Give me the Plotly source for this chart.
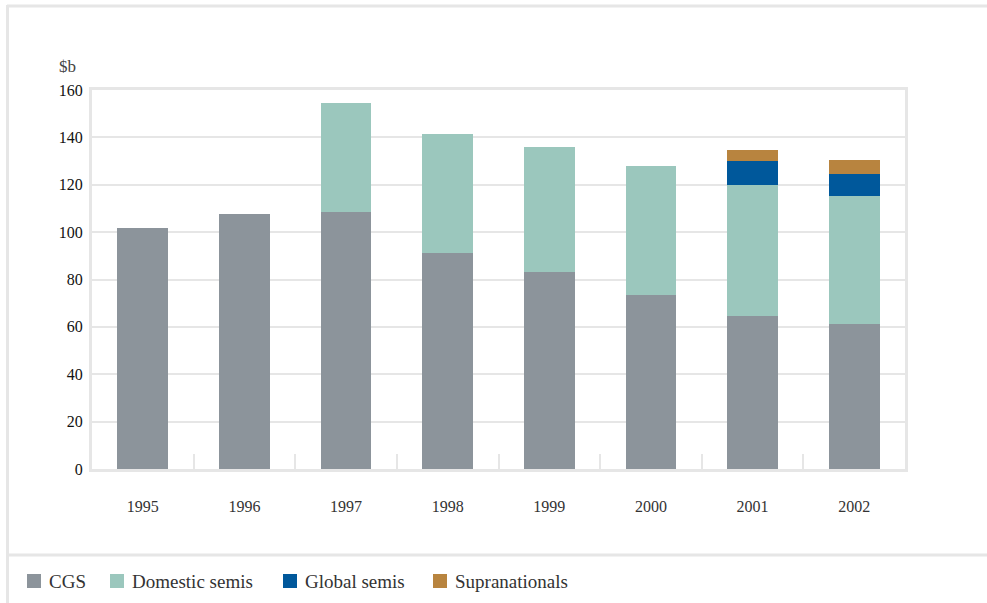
import plotly.graph_objects as go

years = ["1995", "1996", "1997", "1998", "1999", "2000", "2001", "2002"]
cgs = [101.6, 107.5, 108.4, 91.0, 83.0, 73.6, 64.8, 61.4]
domestic = [0, 0, 46.1, 50.4, 52.9, 54.2, 55.0, 53.7]
global_semis = [0, 0, 0, 0, 0, 0, 10.1, 9.3]
supra = [0, 0, 0, 0, 0, 0, 4.7, 6.0]

names = ["CGS", "Domestic semis", "Global semis", "Supranationals"]
colors = ["#8c949b", "#9bc7bd", "#00589b", "#b8843f"]
values = [cgs, domestic, global_semis, supra]

W, H = 987, 603
L, R, T, B = 92, 905, 90, 469
FONT = "Liberation Serif, DejaVu Serif, serif"

fig = go.Figure()
for name, vals, col in zip(names, values, colors):
    fig.add_trace(go.Bar(x=years, y=vals, name=name, showlegend=False,
                         marker=dict(color=col, line=dict(width=0))))

def px(x):
    return (x - L) / (R - L)

def py(y):
    return (B - y) / (B - T)

grey = "#e6e6e6"
shapes = [
    dict(type="line", xref="paper", yref="paper", x0=px(7), x1=px(990), y0=py(6), y1=py(6),
         line=dict(color=grey, width=3)),
    dict(type="line", xref="paper", yref="paper", x0=px(7.5), x1=px(7.5), y0=py(5), y1=py(610),
         line=dict(color=grey, width=3)),
    dict(type="line", xref="paper", yref="paper", x0=px(7), x1=px(990), y0=py(555), y1=py(555),
         line=dict(color=grey, width=3)),
]
annotations = [dict(text="$b", xref="paper", yref="paper", x=px(57), y=py(66),
                    xanchor="left", yanchor="middle", showarrow=False,
                    font=dict(size=17, color="#444"))]

# manual legend (square swatch + label)
legend_x = [27, 110, 283, 433]
for name, col, lx in zip(names, colors, legend_x):
    shapes.append(dict(type="rect", xref="paper", yref="paper",
                       x0=px(lx), x1=px(lx + 14), y0=py(574), y1=py(588),
                       fillcolor=col, line=dict(width=0)))
    annotations.append(dict(text=name, xref="paper", yref="paper", x=px(lx + 20), y=py(581),
                            xanchor="left", yanchor="middle", showarrow=False,
                            font=dict(size=19, color="#333")))

fig.update_layout(
    width=W, height=H,
    margin=dict(l=L, r=W - R, t=T, b=H - B, autoexpand=False),
    paper_bgcolor="white", plot_bgcolor="white",
    barmode="stack", bargap=0.5,
    font=dict(family=FONT, color="#222", size=15),
    showlegend=False,
    shapes=shapes,
    annotations=annotations,
)
fig.update_xaxes(
    type="category", showgrid=False, showline=True, mirror=True, linecolor=grey, linewidth=3,
    ticks="inside", tickson="boundaries", ticklen=15, tickwidth=2, tickcolor=grey,
    tickfont=dict(size=16, color="#333"), ticklabelstandoff=21,
)
fig.update_yaxes(
    range=[0, 160], dtick=20, showgrid=True, gridcolor=grey, gridwidth=2,
    showline=True, mirror=True, linecolor=grey, linewidth=3, zeroline=False,
    ticks="", tickfont=dict(size=16, color="#111"), ticklabelstandoff=3,
)

fig.write_html("out.html")
